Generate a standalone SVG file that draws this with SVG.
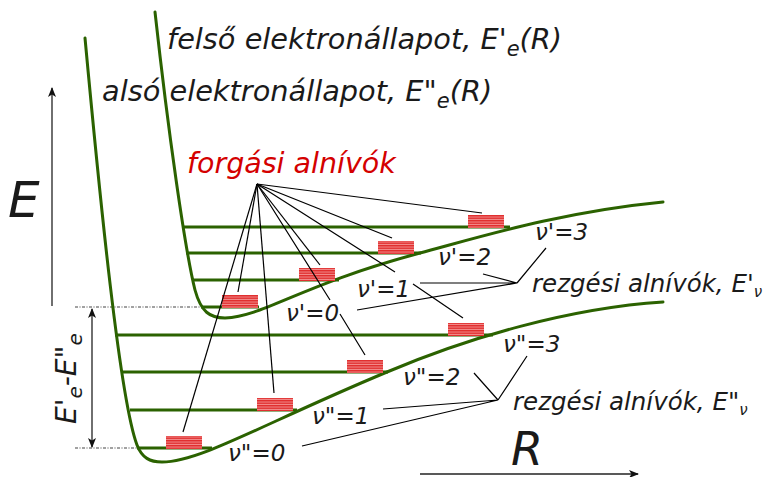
<svg xmlns="http://www.w3.org/2000/svg" width="771" height="477" viewBox="0 0 771 477">
<style>
.t{font-family:"DejaVu Sans","Liberation Sans",sans-serif;font-style:oblique;fill:#1a1a1a}
.curve{fill:none;stroke:#2b6200;stroke-width:3;stroke-linecap:round}
.lvl{stroke:#2b6200;stroke-width:3}
.fan{stroke:#000;stroke-width:1.2;fill:none}
.box{fill:url(#stripes)}
.axis{stroke:#222;stroke-width:1.3;fill:none}
.dd{stroke:#444;stroke-width:1.2;stroke-dasharray:3 1.5 1 1.5;fill:none}
</style>
<defs>
<pattern id="stripes" patternUnits="userSpaceOnUse" width="10" height="2.5">
<rect width="10" height="2.5" fill="#f29090"/>
<rect width="10" height="1.5" fill="#e12d2d"/>
</pattern>
<marker id="ah" viewBox="0 0 10 8" refX="9" refY="4" markerWidth="10" markerHeight="8" markerUnits="userSpaceOnUse" orient="auto-start-reverse">
<path d="M0,0 L10,4 L0,8 L2.5,4 Z" fill="#111"/>
</marker>
</defs>

<g id="axes">
<path class="axis" d="M52,306 L52,88" marker-end="url(#ah)"/>
<path class="axis" d="M420,474 L638,474" marker-end="url(#ah)"/>
<text class="t" x="8" y="217" font-size="50">E</text>
<text class="t" x="511" y="465" font-size="46">R</text>
</g>

<g id="energy-gap">
<path class="dd" d="M75,307 L202,307"/>
<path class="dd" d="M75,448 L137,448"/>
<path class="axis" d="M92,309 L92,447" marker-start="url(#ah)" marker-end="url(#ah)"/>
<text class="t" font-size="28" transform="translate(76,424) rotate(-90)">E'<tspan font-size="20" dy="6">e</tspan><tspan dy="-6">-E"</tspan><tspan font-size="20" dy="6">e</tspan></text>
</g>

<g id="lower-state">
<path class="lvl" d="M115,335 L493,335 M122,372 L388,372 M130,410 L297,410 M137,448 L212,448"/>
<path class="curve" d="M85,38 C100,200 120,400 137,445 C142,458 150,462 162,462 C200,462 260,425 387,372 C470,337 570,308 663,302"/>
</g>

<g id="upper-state">
<path class="lvl" d="M182,227 L510,227 M186,253 L421,253 M193,280 L339,280 M201,307 L259,307"/>
<path class="curve" d="M155,12 C168,130 185,250 195,290 C201,312 210,318 225,318 C265,316 300,285 420,253 C480,237 560,212 663,202"/>
</g>

<g id="rot-levels">
<rect class="box" x="468" y="215" width="36" height="13"/>
<rect class="box" x="378" y="241" width="36" height="13"/>
<rect class="box" x="299" y="268" width="36" height="13"/>
<rect class="box" x="222" y="295" width="36" height="13"/>
<rect class="box" x="448" y="323" width="36" height="13"/>
<rect class="box" x="347" y="360" width="36" height="13"/>
<rect class="box" x="257" y="398" width="36" height="13"/>
<rect class="box" x="166" y="436" width="36" height="13"/>
</g>

<g id="connectors">
<path class="fan" d="M257,184 L482,213"/>
<path class="fan" d="M257,184 L392,238"/>
<path class="fan" d="M257,184 L395,272 M413,284 L463,318"/>
<path class="fan" d="M257,184 L320,265"/>
<path class="fan" d="M257,184 L330,300 M340,314 L365,355"/>
<path class="fan" d="M257,184 L274,393"/>
<path class="fan" d="M257,184 L238,292"/>
<path class="fan" d="M257,184 L183,432"/>
<path class="fan" d="M517,283 L546,248 M517,283 L483,274 M517,283 L420,283 M517,283 L357,310"/>
<path class="fan" d="M498,400 L527,356 M498,400 L474,373 M498,400 L383,409 M498,400 L302,446"/>
</g>

<g id="labels">
<text class="t" x="167" y="49" font-size="28.8">felső elektronállapot, E'<tspan font-size="21" dy="7">e</tspan><tspan dy="-7">(R)</tspan></text>
<text class="t" x="102" y="101" font-size="28.8">alsó elektronállapot, E"<tspan font-size="21" dy="7">e</tspan><tspan dy="-7">(R)</tspan></text>
<text class="t" x="187" y="173" font-size="28.5" style="fill:#d40000">forgási alnívók</text>
<text class="t" x="532" y="292" font-size="24.5">rezgési alnívók, E'<tspan font-size="15" dy="5">ν</tspan></text>
<text class="t" x="513" y="410" font-size="24.5">rezgési alnívók, E"<tspan font-size="15" dy="5">ν</tspan></text>
<text class="t" x="286" y="321" font-size="23">ν'=0</text>
<text class="t" x="357" y="297" font-size="23">ν'=1</text>
<text class="t" x="438" y="265" font-size="23">ν'=2</text>
<text class="t" x="535" y="240" font-size="23">ν'=3</text>
<text class="t" x="228" y="461" font-size="23">ν"=0</text>
<text class="t" x="312" y="424" font-size="23">ν"=1</text>
<text class="t" x="403" y="385" font-size="23">ν"=2</text>
<text class="t" x="503" y="352" font-size="23">ν"=3</text>
</g>
</svg>
